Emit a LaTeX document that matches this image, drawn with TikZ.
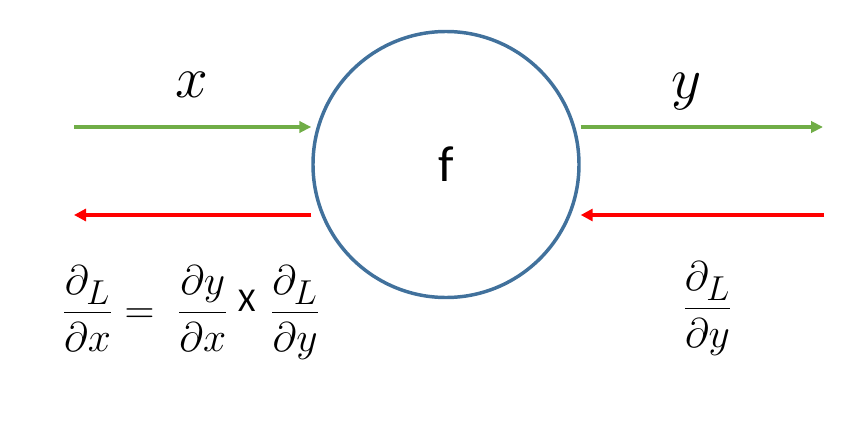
\documentclass[tikz,border=0pt]{standalone}
\usepackage{amsmath}
\usepackage{graphicx}
\usepackage[no-math]{fontspec}
\setmainfont{Carlito}
\usepackage{tikz}
\usetikzlibrary{arrows.meta}
\definecolor{fblue}{HTML}{41719C}
\definecolor{fgreen}{HTML}{70AD47}
\definecolor{fred}{HTML}{FF0000}
\newcommand{\bigmath}[2]{\scalebox{#1}{\fontsize{24.88}{30}\selectfont #2}}

\begin{document}
\begin{tikzpicture}[x=0.75pt, y=-0.75pt,
  fwd/.style={draw=fgreen, line width=2.8pt, -{Triangle[length=9pt, width=8.5pt]}},
  bwd/.style={draw=fred, line width=3pt, -{Triangle[length=9pt, width=9pt]}},
  mathlbl/.style={inner sep=0pt, anchor=base}]
\useasboundingbox (0,0) rectangle (868,432);
\node[circle, draw=fblue, line width=2.6pt, minimum size=199.5pt, inner sep=0pt,
  font=\fontsize{38}{44}\selectfont] (fnode) at (446,164.5) {f};
\coordinate (xin) at (74,127);
\coordinate (yout) at (823,127);
\coordinate (gradin) at (824,215);
\coordinate (gradout) at (74,215);
\draw[fwd] (xin) -- (fnode.west |- xin);
\draw[fwd] (fnode.east |- yout) -- (yout);
\draw[bwd] (gradin) -- (fnode.east |- gradin);
\draw[bwd] (fnode.west |- gradout) -- (gradout);
\node[mathlbl] (xlbl) at (192,97) {\bigmath{1.77}{$x$}};
\node[mathlbl] (ylbl) at (687,98) {\bigmath{1.77}{$y$}};
\node[mathlbl] (chain) at (191,323)
  {\bigmath{1.25}{$\dfrac{\partial_L}{\partial x} = \;\dfrac{\partial y}{\partial x}$\hspace{6pt}\raisebox{7pt}{\fontsize{20}{24}\selectfont X}\hspace{9pt}$\dfrac{\partial_L}{\partial y}$}};
\node[mathlbl] (gradlbl) at (707.5,319) {\bigmath{1.25}{$\dfrac{\partial_L}{\partial y}$}};
\end{tikzpicture}
\end{document}
